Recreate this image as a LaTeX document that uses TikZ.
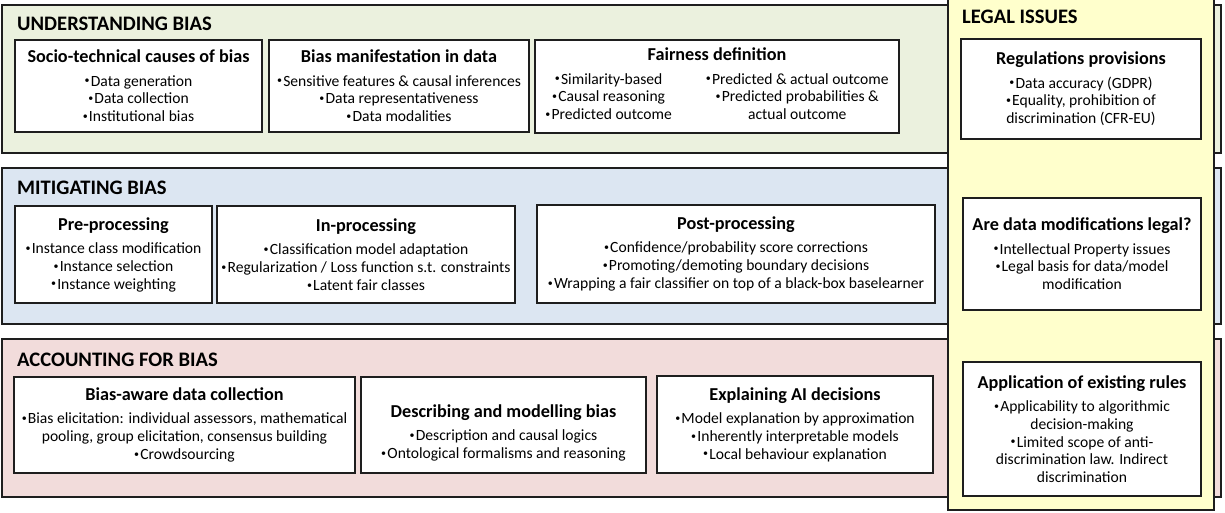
\documentclass[tikz,border=0pt]{standalone}
\usepackage{fontspec}
\setmainfont{Carlito}
\definecolor{bandU}{HTML}{EBF1DE}
\definecolor{bandM}{HTML}{DCE6F2}
\definecolor{bandA}{HTML}{F2DCDB}
\definecolor{legalY}{HTML}{FFFFCC}
\definecolor{edge}{HTML}{1E1E1E}
\newcommand\bodyfont{\fontsize{15.6}{17.8}\selectfont}
\newcommand\boxtitle[1]{{\fontsize{18.2}{18}\selectfont\bfseries #1}}
\newcommand\hdrfont{\fontsize{20.6}{24}\selectfont\bfseries}
\newcommand\bpt{{\fontsize{10}{10}\selectfont\raisebox{2.2pt}{\textbullet}}\hspace{1.2pt}}
\begin{document}
\begin{tikzpicture}[x=1pt,y=-1pt,
  band/.style={draw=edge, line width=1.5pt, inner sep=0pt},
  infobox/.style={draw=edge, line width=1.5pt, fill=white, inner sep=0pt, align=center, font=\bodyfont},
  hdr/.style={anchor=base west, inner sep=0pt, font=\hdrfont}]
\useasboundingbox (0,0) rectangle (1225,512);
% bands
\node[band, fill=bandU, minimum width=1219pt, minimum height=148pt] (ub) at (611.5,79) {};
\node[band, fill=bandM, minimum width=1219pt, minimum height=156pt] (mb) at (611.5,246) {};
\node[band, fill=bandA, minimum width=1219pt, minimum height=158pt] (ab) at (611.5,418) {};
\node[band, fill=legalY, minimum width=266pt, minimum height=515pt] (lb) at (1081,252.5) {};
% headers
\node[hdr] (hu) at (17,30) {UNDERSTANDING BIAS};
\node[hdr] (hm) at (17,194) {MITIGATING BIAS};
\node[hdr] (ha) at (17,366) {ACCOUNTING FOR BIAS};
\node[hdr] (hl) at (962,23) {LEGAL ISSUES};
% understanding
\node[infobox, minimum width=247pt, minimum height=92pt] (u1) at (138.5,86) {\boxtitle{Socio-technical causes of bias}\\[5.5pt]\bpt Data generation\\ \bpt Data collection\\ \bpt Institutional bias};
\node[infobox, minimum width=260pt, minimum height=92pt] (u2) at (399,86) {\boxtitle{Bias manifestation in data}\\[5.5pt]\bpt Sensitive features \& causal inferences\\ \bpt Data representativeness\\ \bpt Data modalities};
\node[infobox, minimum width=364pt, minimum height=93pt] (u3) at (717,86.5) {\boxtitle{Fairness definition}\\[5.5pt]\begin{tabular}[t]{@{}c@{\hspace{34pt}}c@{}}\bpt Similarity-based & \bpt Predicted \& actual outcome\\ \bpt Causal reasoning & \bpt Predicted probabilities \&\\ \bpt Predicted outcome & actual outcome\end{tabular}};
% mitigating
\node[infobox, minimum width=197pt, minimum height=97pt] (m1) at (113.5,254.5) {\boxtitle{Pre-processing}\\[5.5pt]\bpt Instance class modification\\ \bpt Instance selection\\ \bpt Instance weighting};
\node[infobox, minimum width=298pt, minimum height=97pt] (m2) at (366,254.5) {\boxtitle{In-processing}\\[5.5pt]\bpt Classification model adaptation\\ \bpt Regularization / Loss function s.t. constraints\\ \bpt Latent fair classes};
\node[infobox, minimum width=398pt, minimum height=98pt] (m3) at (736,254) {\boxtitle{Post-processing}\\[5.5pt]\bpt Confidence/probability score corrections\\ \bpt Promoting/demoting boundary decisions\\ \bpt Wrapping a fair classifier on top of a black-box baselearner};
% accounting
\node[infobox, minimum width=341pt, minimum height=96pt] (a1) at (184.5,425) {\boxtitle{Bias-aware data collection}\\[5.5pt]\bpt Bias elicitation: individual assessors, mathematical\\ pooling, group elicitation, consensus building\\ \bpt Crowdsourcing};
\node[infobox, minimum width=285pt, minimum height=96pt] (a2) at (503.5,425) {\rule{0pt}{28pt}\boxtitle{Describing and modelling bias}\\[5.5pt]\bpt Description and causal logics\\ \bpt Ontological formalisms and reasoning};
\node[infobox, minimum width=276pt, minimum height=97pt] (a3) at (795,424.5) {\boxtitle{Explaining AI decisions}\\[5.5pt]\bpt Model explanation by approximation\\ \bpt Inherently interpretable models\\ \bpt Local behaviour explanation};
% legal
\node[infobox, minimum width=240pt, minimum height=100pt] (l1) at (1081,89) {\boxtitle{Regulations provisions}\\[5.5pt]\bpt Data accuracy (GDPR)\\ \bpt Equality, prohibition of\\ discrimination (CFR-EU)};
\node[infobox, minimum width=238pt, minimum height=112pt] (l2) at (1082,254) {\boxtitle{Are data modifications legal?}\\[5.5pt]\bpt Intellectual Property issues\\ \bpt Legal basis for data/model\\ modification};
\node[infobox, minimum width=238pt, minimum height=134pt] (l3) at (1082,429) {\boxtitle{Application of existing rules}\\[5.5pt]\bpt Applicability to algorithmic\\ decision-making\\ \bpt Limited scope of anti-\\ discrimination law. Indirect\\ discrimination};
\end{tikzpicture}
\end{document}
